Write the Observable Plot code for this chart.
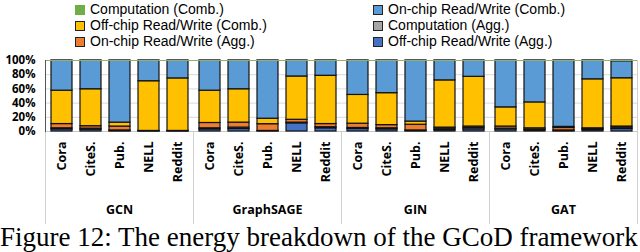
<!DOCTYPE html>
<html><head><meta charset="utf-8">
<script src="https://cdn.jsdelivr.net/npm/d3@7"></script>
<script src="https://cdn.jsdelivr.net/npm/@observablehq/plot@0.6"></script>
<style>
body{margin:0;width:640px;height:252px;overflow:hidden;position:relative;background:#fff;font-family:"Open Sans",sans-serif}
#legend{position:absolute;left:0;top:0;width:640px;height:50px;z-index:2}
.item{position:absolute;display:flex;align-items:center;font-family:"Liberation Sans",Arial,sans-serif;font-size:14px;color:#000;white-space:nowrap;line-height:15px;height:15px}
.sw{width:10px;height:10px;box-sizing:border-box;border:1px solid #222;margin-right:5px}
#chart{position:absolute;left:0;top:48px;z-index:1}
#caption{position:absolute;left:0;top:223px;width:700px;font-family:"Liberation Serif",serif;font-size:27px;line-height:28px;white-space:nowrap}
</style></head>
<body>
<div id="legend"></div><div id="chart"></div><div id="caption">Figure 12: The energy breakdown of the GCoD framework</div>
<script>
const models = ["GCN", "GraphSAGE", "GIN", "GAT"];
const datasets = ["Cora", "CiteS.", "Pub.", "NELL", "Reddit"];
const seriesNames = ["Off-chip Read/Write (Agg.)", "Computation (Agg.)", "On-chip Read/Write (Agg.)", "Off-chip Read/Write (Comb.)", "On-chip Read/Write (Comb.)", "Computation (Comb.)"];
const seriesColors = ["#4472C4", "#A5A5A5", "#ED7D31", "#FFC000", "#5B9BD5", "#70AD47"];
const legendOrder = ["Computation (Comb.)", "Off-chip Read/Write (Comb.)", "On-chip Read/Write (Agg.)", "On-chip Read/Write (Comb.)", "Computation (Agg.)", "Off-chip Read/Write (Agg.)"];
const yTicks = [0, 20, 40, 60, 80, 100];

// values (%) per bar: GCN x5, GraphSAGE x5, GIN x5, GAT x5 (Cora, CiteS., Pub., NELL, Reddit)
const offAgg   = [3, 2.5, 0.5, 0.3, 0.3,   3, 3.5, 0.3, 11.5, 4.5,   3.5, 3, 0.5, 2, 3,      3, 1.5, 0.5, 2, 3.5];
const compAgg  = [1.5, 1.5, 1, 0.2, 0.2,   1.5, 2, 0.5, 1, 1.5,      1.5, 1.5, 1, 2, 2,      1, 1, 1, 1.5, 2];
const onAgg    = [6, 3.5, 5.5, 0.3, 0.3,   7.5, 7, 9.5, 4, 4.5,      6, 4.5, 8, 1.5, 2,      3, 2, 3.5, 1, 1.5];
const offComb  = [47, 52, 5.5, 70, 74,     45.5, 47, 7.7, 61, 68,    40.5, 45, 4.5, 66.5, 70, 27, 36.5, 1.5, 69, 68];
const onComb   = [42, 40, 87, 28.7, 24.7,  42, 40, 81.5, 22, 21,     48, 45.5, 85.5, 27.5, 22.5, 65.5, 58.5, 93, 26, 24];
const compComb = [0.5, 0.5, 0.5, 0.5, 0.5, 0.5, 0.5, 0.5, 0.5, 0.5,  0.5, 0.5, 0.5, 0.5, 0.5, 0.5, 0.5, 0.5, 0.5, 1];
const seriesValues = [offAgg, compAgg, onAgg, offComb, onComb, compComb];

const data = [];
seriesNames.forEach((s, si) => models.forEach((m, mi) => datasets.forEach((d, di) =>
  data.push({model: m, dataset: d, series: s, value: seriesValues[si][mi * datasets.length + di]}))));

// legend
const legend = document.getElementById("legend");
legendOrder.forEach((name, i) => {
  const col = Math.floor(i / 3), row = i % 3;
  const it = document.createElement("div");
  it.className = "item";
  it.style.left = (col === 0 ? 75 : 373) + "px";
  it.style.top = (2 + row * 16.2) + "px";
  const sw = document.createElement("span");
  sw.className = "sw";
  sw.style.background = seriesColors[seriesNames.indexOf(name)];
  if (name === "Computation (Comb.)") sw.style.borderColor = seriesColors[5];
  it.appendChild(sw);
  it.appendChild(document.createTextNode(name));
  legend.appendChild(it);
});

const chart = Plot.plot({
  width: 640, height: 177,
  marginTop: 12, marginBottom: 94, marginLeft: 44, marginRight: 2,
  fx: {domain: models, padding: 0, label: null},
  x: {domain: datasets, paddingInner: 0.29, paddingOuter: 0.145, label: null},
  y: {domain: [0, 100], label: null},
  color: {domain: seriesNames, range: seriesColors},
  style: {fontFamily: "Open Sans", fontWeight: "bold", color: "#000", background: "transparent", overflow: "visible"},
  marks: [
    Plot.gridY({ticks: yTicks, stroke: "#d9d9d9", strokeOpacity: 1}),
    Plot.ruleY([0], {stroke: "#c8c8c8"}),
    Plot.barY(data, {fx: "model", x: "dataset", y: "value", fill: "series", stroke: "#111", strokeWidth: 1.2, order: seriesNames}),
    Plot.ruleY([100], {stroke: "#8fae70", strokeWidth: 1.2}),
    Plot.frame({anchor: "left", stroke: "#d0d0d0", insetTop: 71, insetBottom: -92}),
    Plot.frame({anchor: "left", stroke: "#555", fx: () => "GCN"}),
    Plot.frame({anchor: "right", stroke: "#d0d0d0", insetBottom: -92, fx: () => "GAT"}),
    Plot.axisY({ticks: yTicks, tickFormat: d => d + "%", tickSize: 0, tickPadding: 10, fontSize: 11.5, label: null}),
    Plot.axisX({tickRotate: -90, tickSize: 0, tickPadding: 10, fontSize: 12.5, label: null}),
    Plot.axisFx({anchor: "bottom", tickSize: 0, tickPadding: 74, fontSize: 12.5, label: null})
  ]
});
document.getElementById("chart").appendChild(chart);
</script>
</body></html>
